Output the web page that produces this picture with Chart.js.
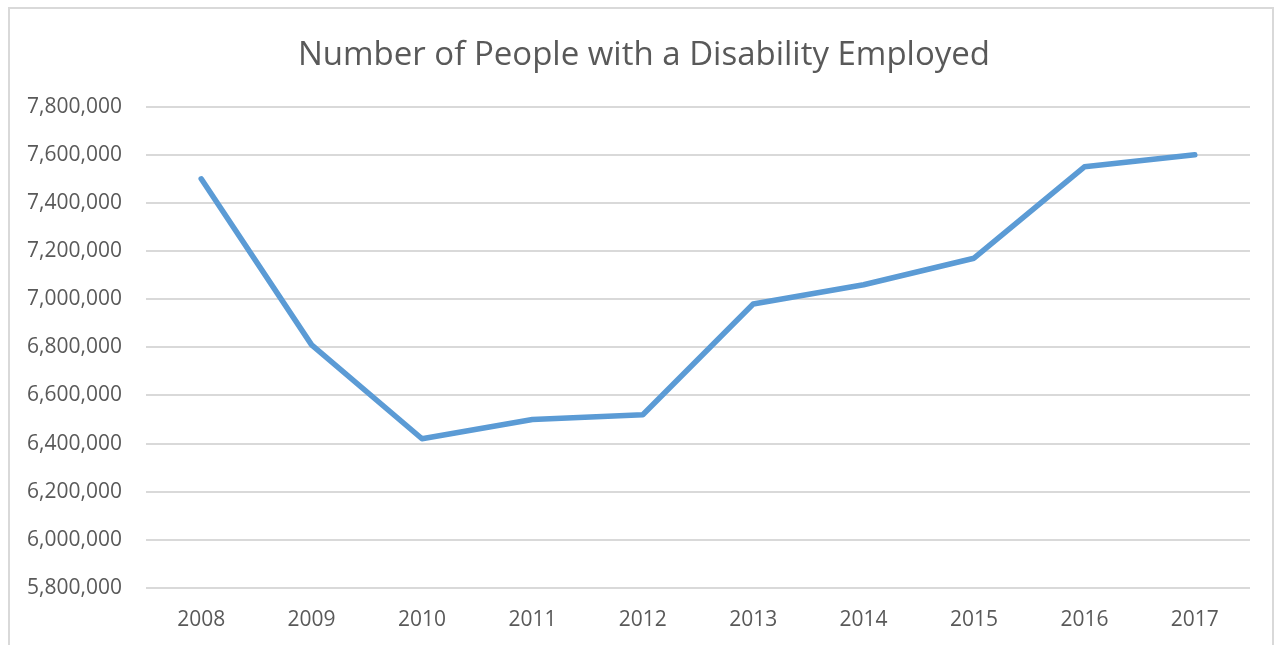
<!DOCTYPE html>
<html>
<head>
<meta charset="utf-8">
<script src="https://cdn.jsdelivr.net/npm/chart.js@4"></script>
<style>
    html, body { margin: 0; padding: 0; background: #fff; overflow: hidden; }
    #wrap { position: relative; width: 1280px; height: 645px; }
    #frame { position: absolute; left: 8px; top: 7px; width: 1262px; height: 700px; border: 2px solid #d9d9d9; }
    #chart { position: absolute; left: 0; top: 0; }
</style>
</head>
<body>
<div id="wrap">
    <div id="frame"></div>
    <canvas id="chart" width="1280" height="645"></canvas>
</div>
<script>
const years = ['2008', '2009', '2010', '2011', '2012', '2013', '2014', '2015', '2016', '2017'];
const employed = [7500000, 6810000, 6420000, 6500000, 6520000, 6980000, 7060000, 7170000, 7550000, 7600000];
const yMin = 5800000;
const yMax = 7800000;
const yStep = 200000;

function employedChart(id, labels = [], values = []) {
    const data = {
        labels: labels,
        datasets: [{
                label: 'Employed',
                data: values,
                borderColor: '#5b9bd5',
                backgroundColor: '#5b9bd5',
                borderWidth: 5.5,
                borderCapStyle: 'round',
                borderJoinStyle: 'round',
                pointRadius: 0,
                tension: 0,
                fill: false
            }]
    };

    const config = {
        type: 'line',
        data: data,
        options: {
            responsive: false,
            animation: false,
            layout: {
                padding: { left: 8, right: 0, top: 0, bottom: 0 }
            },
            plugins: {
                legend: { display: false },
                tooltip: { enabled: false },
                title: {
                    display: true,
                    text: 'Number of People with a Disability Employed',
                    color: '#595959',
                    font: { family: 'Open Sans', size: 33, weight: 'normal', lineHeight: 1.2 },
                    padding: { top: 36, bottom: 31 }
                }
            },
            scales: {
                x: {
                    offset: true,
                    grid: { display: false, drawTicks: false },
                    border: { display: false },
                    ticks: {
                        color: '#595959',
                        padding: 19,
                        font: { family: 'Open Sans', size: 21, lineHeight: 1.2 }
                    },
                    afterFit: (s) => { s.height = 57; }
                },
                y: {
                    min: yMin,
                    max: yMax,
                    grid: { color: '#d9d9d9', lineWidth: 2, drawTicks: false },
                    border: { display: false },
                    ticks: {
                        stepSize: yStep,
                        color: '#595959',
                        padding: 24,
                        font: { family: 'Open Sans', size: 21 },
                        callback: (v) => v.toLocaleString('en-US')
                    },
                    afterFit: (s) => { s.width = 138; }
                },
                // empty margin on the right side of the plot
                yRight: {
                    position: 'right',
                    grid: { display: false, drawTicks: false },
                    border: { display: false },
                    ticks: { display: false },
                    afterFit: (s) => { s.width = 30; }
                }
            }
        }
    };
    let ctx = document.getElementById(id).getContext("2d")
    new Chart(ctx, config)
}

employedChart('chart', years, employed);
</script>
</body>
</html>
